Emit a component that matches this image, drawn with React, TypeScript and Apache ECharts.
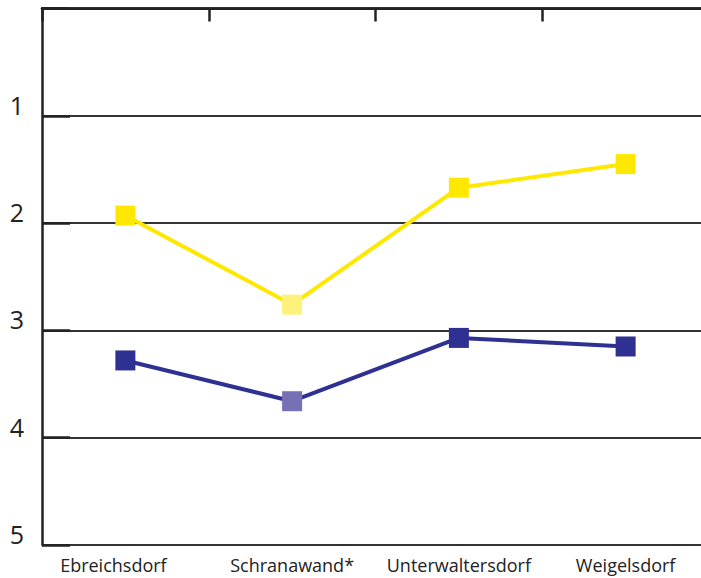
import React, { useEffect, useRef } from "react";
import * as echarts from "echarts";

const categories = ["Ebreichsdorf", "Schranawand*", "Unterwaltersdorf", "Weigelsdorf"];
const yellowValues = [1.93, 2.76, 1.67, 1.45];
const blueValues = [3.28, 3.66, 3.07, 3.15];
const highlightIndex = 1;

export default function App() {
  const ref = useRef<HTMLDivElement>(null);
  useEffect(() => {
    if (!ref.current) return;
    const chart = echarts.init(ref.current, undefined, { renderer: "svg" });
    const mk = (vals: number[], main: string, light: string) =>
      vals.map((v, i) => ({
        value: v,
        itemStyle: { color: i === highlightIndex ? light : main },
      }));
    chart.setOption({
      animation: false,
      grid: { left: 42, top: 8.5, right: 0, bottom: 33 },
      xAxis: [
        {
          type: "category",
          data: categories.map((c, i) =>
            i === 0 ? { value: c, textStyle: { padding: [0, 24, 0, 0] } } : c
          ),
          boundaryGap: true,
          position: "bottom",
          axisLine: { lineStyle: { color: "#222", width: 2.5 } },
          axisTick: { show: false },
          axisLabel: {
            color: "#222",
            fontSize: 18,
            fontFamily: "Open Sans",
            margin: 11,
            interval: 0,
          },
        },
        {
          type: "category",
          data: categories,
          position: "top",
          boundaryGap: true,
          axisLine: { show: true, lineStyle: { color: "#222", width: 2.5 } },
          axisTick: { show: true, inside: true, length: 13, lineStyle: { color: "#222", width: 2.5 } },
          axisLabel: { show: false },
        },
      ],
      yAxis: {
        type: "value",
        inverse: true,
        min: 0,
        max: 5,
        interval: 1,
        axisLine: { show: true, lineStyle: { color: "#222", width: 2.5 } },
        axisTick: { show: true, inside: true, length: 28, lineStyle: { color: "#222", width: 2.5 } },
        splitLine: { show: true, lineStyle: { color: "#333", width: 2 } },
        axisLabel: {
          color: "#222",
          fontSize: 25,
          fontFamily: "Open Sans",
          margin: 18,
          verticalAlign: "bottom",
          lineHeight: 22,
          formatter: (v: number) => (v === 0 ? "" : String(v)),
        },
      },
      series: [
        {
          type: "line",
          data: mk(yellowValues, "#FFE800", "#FFF27A"),
          symbol: "rect",
          symbolSize: 20,
          lineStyle: { color: "#FFE800", width: 4 },
          z: 3,
        },
        {
          type: "line",
          data: mk(blueValues, "#2E3192", "#7670B4"),
          symbol: "rect",
          symbolSize: 20,
          lineStyle: { color: "#2E3192", width: 4 },
          z: 3,
        },
      ],
    });
    return () => chart.dispose();
  }, []);
  return (
    <div style={{ width: 701, height: 578, position: "absolute", left: 0, top: 0, overflow: "hidden" }}>
      <div ref={ref} style={{ width: 709, height: 578 }} />
    </div>
  );
}
